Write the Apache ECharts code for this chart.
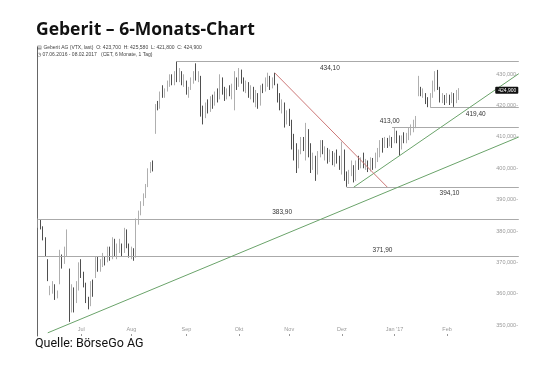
<!DOCTYPE html>
<html>
<head>
<meta charset="utf-8">
<title>Geberit – 6-Monats-Chart</title>
<script src="https://cdn.jsdelivr.net/npm/echarts@6.0.0/dist/echarts.min.js"></script>
<style>
  html, body { margin: 0; padding: 0; background: #fff; }
  #chart { width: 540px; height: 377px; }
</style>
</head>
<body>
<div id="chart"></div>
<script>
// Tagesbalken je Monat: [Eröffnung, Hoch, Tief, Schluss]
var jun16 = [
  [382,384,381,383],[383,383.5,380.5,381],[381,381.5,377,377.5],[377,378,372,373],
  [370,371,364,365],[361,362.5,359.5,361.5],[361,364,360,363],[362,363,358,359],
  [359,361,358.5,360],[364,374,363,372],[372,372.5,368,370],[370,375,369.5,374],
  [374,380.5,372,378],[367,368,351,357],[357,363,354,361],[360,362,354,357],
  [357,364,357,363],[363,370,361,368]
];
var jul16 = [
  [368,371,365,366],[366,367,362,363],[363,363.5,357,358],[358,359,355,356],
  [356,364,356,363],[363,364.5,359,360],[366,372,365,371],[371,372,367,368],
  [368,371,367,370],[370,373,368.5,372],[372,372,369,370],[370,375,370,374],
  [374,375,370.5,371],[371,378,371,377],[377,377.5,372,373],[373,376,371,375],
  [375,377.5,373,376],[376,376,372,373],[373,381,373,380],[380,380.5,374.5,375],
  [375,376,371.5,372]
];
var aug16 = [
  [372,375,371,374],[374,374.5,370.5,371],[372,384,371.5,383],[383,386.5,382,386],
  [386,389.5,385,389],[389,392,388,391],[391,395,390.5,394],[394,400,394,399],
  [399,402,398.5,401],[401,402.5,399,400],[411,420.5,411,419],[421,421.5,418.5,419],
  [419,424.5,419,424],[424,426.5,422.5,423],[423,425.5,422.5,425],[425,428,424.5,427],
  [427,430,426,429],[429,430,426.5,427],[427,431,426.5,430],[430,434.1,427.5,428],
  [428,432,427.5,431],[431,431,426.5,427],[427,430,426,429]
];
var sep16 = [
  [428,428,423.5,424],[424,426,422.5,425],[425,429,425,428],[428,431,427,430],
  [430,433.5,428,429],[429,431,427.5,430],[429,429.5,416.5,417],[417,420,414,416],
  [416,421,416,420],[420,422,417.5,418],[418,423,418,422],[422,423.5,419,420],
  [420,424.5,420,424],[424,425.5,421,422],[422,430,422,429],[429,429,423.5,424],
  [424,426,421.5,422],[422,425.5,422,425],[425,426.5,423,424],[424,427,422,426],
  [426,431,418.5,428],[428,429,425,427]
];
var oct16 = [
  [427,432,426,431],[431,431.5,427,428],[428,429,424.5,425],[425,428,424,427],
  [427,427.5,422.5,423],[423,426.5,422,426],[426,426,421,422],[422,425,419.5,424],
  [424,424,419,420],[420,426.5,420,426],[426,427,424,425],[425,429,424.5,428],
  [428,430.5,426,429],[429,429.5,425,426],[426,429,425.5,428],[428,430.5,426.5,427],
  [427,427,421,422],[422,424,418.5,419],[419,422,417.5,420],[420,421,413,414],
  [414,418.5,414,417]
];
var nov16 = [
  [417,419,413.5,415],[415,415.5,406,407],[407,411,402.5,404],[404,408,398.5,400],
  [400,406,400,405],[405,410,404.5,409],[409,410,405.5,406],[406,414.5,402.5,412],
  [412,412.5,403.5,405],[405,408,398.5,400],[400,405,399.5,404],[404,404,396,398],
  [398,405.5,398,405],[405,409,403.5,408],[408,409,404.5,405],[405,407,402.5,406],
  [406,406.5,401.5,402],[402,406,402,405],[405,405.5,401,403],[403,405,400.5,404],
  [404,406,401.5,402],[402,404,399.5,400]
];
var dec16 = [
  [399,408.5,398,407],[406,406,396,397],[397,399,394.1,395],[395,399.5,395,398],
  [398,402.5,397.5,401],[401,401,395.5,396],[396,402.5,396,402],[402,404,399.5,400],
  [400,403.5,400,403],[403,405,400,401],[401,403,399.5,402],[402,402.5,398.8,399],
  [399,403.5,399,403],[403,403.3,399.5,400],[400,405,400,404],[404,406.5,402,406],
  [406,409,403.5,408],[408,409.7,405,407],[407,410,406.5,409],[409,409.7,406.5,407],
  [407,410.5,407,410],[410,410,406.5,408]
];
var jan17 = [
  [408,413,408,412],[412,412,408,409],[409,410.5,404,406],[406,410.5,406,410],
  [410,411.5,408,409],[409,411.3,408,411],[411,413,409,412],[412,414,410.5,413],
  [413,415.5,411.5,415],[415,416.7,412.8,416],[423,429.5,423,428],[426,426,423,424],
  [424,425.5,422.5,425],[424,424,420.5,421],[421,422.7,419.5,420],[420,424,419.4,423],
  [423,428,422.5,427],[427,431,424.5,430],[430,431.4,425,426],[426,426,421,422],
  [422,424,420.8,423],[423,423.4,420.2,421]
];
var feb17 = [
  [421,424,420.8,423],[423,423.5,420.2,421],[421,424.3,420.8,424],[424,424,419.6,420],
  [421,425,420.8,424],[423.7,425.58,421.8,424.9]
];

var monthLabels = {
  '2016-07': 'Jul', '2016-08': 'Aug', '2016-09': 'Sep', '2016-10': 'Okt',
  '2016-11': 'Nov', '2016-12': 'Dez', '2017-01': "Jan '17", '2017-02': 'Feb'
};

// eingezeichnete Marken: Kurs, ab Handelstag, Beschriftung bei Handelstag, oben/unten
var levels = [
  {value: 434.10, from: 58, labelAt: 122, side: 'bottom'},
  {value: 413.00, from: 148, labelAt: 147, side: 'top'},
  {value: 419.40, from: 164, labelAt: 183, side: 'bottom'},
  {value: 394.10, from: 129, labelAt: 172, side: 'bottom'},
  {value: 383.90, from: 0, labelAt: 102, side: 'top'},
  {value: 371.90, from: 0, labelAt: 144, side: 'top'}
];
// Trendlinien [Handelstag, Kurs]
var trendLong = [[4, 347.5], [201, 410.0]];
var trendShort = [[132, 394.0], [201, 430.2]];
var trendDown = [[99, 430.4], [146, 394.0]];

var bars = [].concat(jun16, jul16, aug16, sep16, oct16, nov16, dec16, jan17, feb17);

// Handelstage Mo-Fr ab 07.06.2016, Achse reicht etwas über den letzten Kurs hinaus
var days = [];
var d = new Date(Date.UTC(2016, 5, 7));
while (days.length < 202) {
  var wd = d.getUTCDay();
  if (wd != 0 && wd != 6) days.push(d.toISOString().slice(0, 10));
  d.setUTCDate(d.getUTCDate() + 1);
}
var lastIdx = days.length - 1;

function de(v, n) { return v.toFixed(n).replace('.', ','); }
function dmy(s) { return s.slice(8, 10) + '.' + s.slice(5, 7) + '.' + s.slice(0, 4); }

function isMonthStart(i, v) {
  return !!monthLabels[v.slice(0, 7)] && (i == 0 || days[i - 1].slice(0, 7) != v.slice(0, 7));
}

var last = bars[bars.length - 1];
var kData = bars.map(function (b) { return [b[0], b[3], b[2], b[1]]; });

var lines = [];
levels.forEach(function (l) {
  lines.push([{coord: [days[l.from], l.value]}, {coord: [days[lastIdx], l.value]}]);
});
var green = {color: '#6aa36a', width: 1, type: 'solid'};
lines.push([{coord: [days[trendLong[0][0]], trendLong[0][1]], lineStyle: green}, {coord: [days[trendLong[1][0]], trendLong[1][1]]}]);
lines.push([{coord: [days[trendShort[0][0]], trendShort[0][1]], lineStyle: green}, {coord: [days[trendShort[1][0]], trendShort[1][1]]}]);
lines.push([{coord: [days[trendDown[0][0]], trendDown[0][1]], lineStyle: {color: '#cc7777', width: 1, type: 'solid'}}, {coord: [days[trendDown[1][0]], trendDown[1][1]]}]);

var points = levels.map(function (l) {
  return {
    coord: [days[l.labelAt], l.value],
    label: {show: true, position: l.side, distance: 2.5, formatter: de(l.value, 2), color: '#333', fontSize: 6.5, fontFamily: 'Liberation Sans'}
  };
});
points.push({
  coord: [days[lastIdx], last[3]],
  label: {show: true, position: 'left', distance: 0, formatter: de(last[3], 3), color: '#fff', backgroundColor: '#111',
    fontSize: 5, fontFamily: 'Liberation Sans', padding: [1, 2, 1, 3], borderRadius: 1}
});

var myChart = echarts.init(document.getElementById('chart'));
myChart.setOption({
  animation: false,
  title: [
    {
      text: 'Geberit – 6-Monats-Chart', left: 36, top: 21, padding: 0,
      textStyle: {fontFamily: 'Open Sans', fontWeight: 'bold', fontSize: 17.5, color: '#111'}
    },
    {
      text: '▤ Geberit AG (VTX, last)  O: ' + de(last[0], 3) + '  H: ' + de(last[1], 3) + '  L: ' + de(last[2], 3) + '  C: ' + de(last[3], 3),
      left: 37, top: 45.5, padding: 0,
      textStyle: {fontFamily: 'Liberation Sans', fontWeight: 'normal', fontSize: 5, color: '#444'}
    },
    {
      text: '◷ ' + dmy(days[0]) + ' - ' + dmy(days[bars.length - 1]) + '   (CET, 6 Monate, 1 Tag)',
      left: 37, top: 52, padding: 0,
      textStyle: {fontFamily: 'Liberation Sans', fontWeight: 'normal', fontSize: 5, color: '#444'}
    },
    {
      text: 'Quelle: BörseGo AG', left: 35, top: 337, padding: 0,
      textStyle: {fontFamily: 'Roboto', fontWeight: 'normal', fontSize: 12.5, color: '#111'}
    }
  ],
  grid: {left: 37, right: 20, top: 47, bottom: 41},
  xAxis: {
    type: 'category',
    data: days,
    boundaryGap: true,
    axisLine: {show: false},
    axisTick: {show: true, inside: true, length: 2, alignWithLabel: true, interval: isMonthStart, lineStyle: {color: '#999'}},
    axisLabel: {
      inside: true, margin: 4, interval: isMonthStart, color: '#999', fontSize: 5.5, fontFamily: 'Liberation Sans',
      formatter: function (v) { return monthLabels[v.slice(0, 7)] || ''; }
    },
    splitLine: {show: false}
  },
  yAxis: [
    {
      type: 'value', position: 'right', min: 346.49, max: 438.71, minInterval: 10, maxInterval: 10,
      axisLine: {show: false}, axisTick: {show: false}, splitLine: {show: false},
      axisLabel: {
        inside: true, margin: 2, color: '#999', fontSize: 5.5, fontFamily: 'Liberation Sans',
        showMinLabel: false, showMaxLabel: false,
        formatter: function (v) { return de(v, 3) + '-'; }
      }
    },
    {
      type: 'value', position: 'left', min: 346.49, max: 438.71,
      axisLine: {show: true, lineStyle: {color: '#666', width: 1}},
      axisTick: {show: false}, axisLabel: {show: false}, splitLine: {show: false}
    }
  ],
  series: [
    {
      type: 'candlestick',
      data: kData,
      barWidth: 1.2,
      itemStyle: {color: '#9a9a9a', color0: '#222', borderColor: '#9a9a9a', borderColor0: '#222', borderWidth: 0.8},
      markLine: {
        silent: true, symbol: ['none', 'none'], animation: false,
        label: {show: false},
        lineStyle: {color: '#aaa', width: 1, type: 'solid'},
        data: lines
      },
      markPoint: {
        silent: true, symbol: 'circle', symbolSize: 1, itemStyle: {color: 'rgba(0,0,0,0)'},
        data: points
      }
    }
  ]
});
</script>
</body>
</html>
